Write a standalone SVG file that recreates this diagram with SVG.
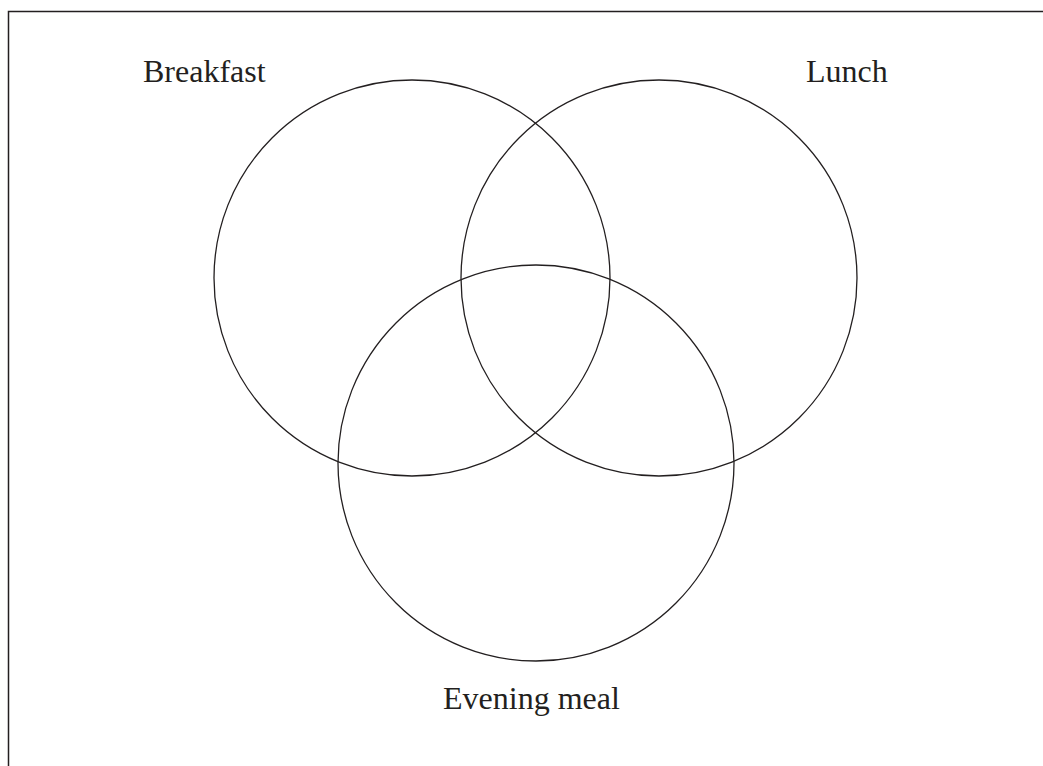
<svg xmlns="http://www.w3.org/2000/svg" width="1043" height="766" viewBox="0 0 1043 766">
<style>
.c{fill:none;stroke:#231f20;stroke-width:1.3}
.t{font-family:"Liberation Serif","Times New Roman",serif;font-size:32px;fill:#231f20}
</style>
<rect x="0" y="0" width="1043" height="766" fill="#fff"/>
<path d="M8.5,766 V11.5 H1043" fill="none" stroke="#231f20" stroke-width="1.5"/>
<g id="breakfast"><circle class="c" cx="412" cy="278" r="198"/><text class="t" x="143" y="82">Breakfast</text></g>
<g id="lunch"><circle class="c" cx="659" cy="278" r="198"/><text class="t" x="806" y="82">Lunch</text></g>
<g id="evening"><circle class="c" cx="536" cy="463" r="198"/><text class="t" x="443" y="709">Evening meal</text></g>
<g id="connectors"></g>
</svg>
